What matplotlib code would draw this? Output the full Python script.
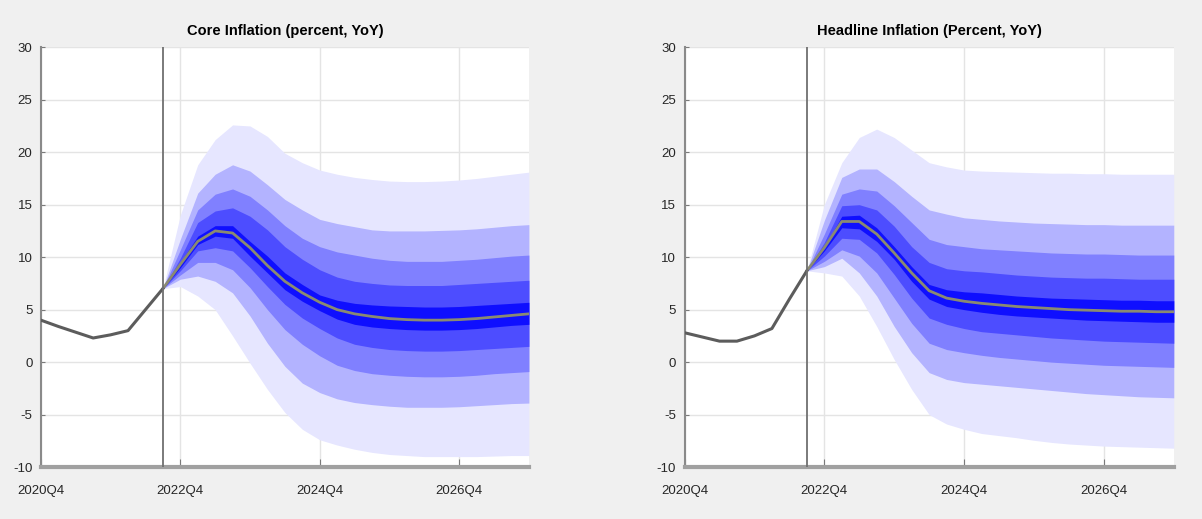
import matplotlib.pyplot as plt

plt.rcParams['font.family'] = ['Liberation Sans', 'DejaVu Sans']
plt.rcParams['axes.unicode_minus'] = False

# x positions are quarters counted from 2020Q4 (= 0)
hist_x = [0, 1, 2, 3, 4, 5, 6, 7]
fc_x = list(range(7, 29))
x_ticks = [0, 8, 16, 24]
x_labels = ['2020Q4', '2022Q4', '2024Q4', '2026Q4']
y_ticks = [-10, -5, 0, 5, 10, 15, 20, 25, 30]
y_labels = ['-10', '-5', '0', '5', '10', '15', '20', '25', '30']
cut_q = 7

# Core inflation
core_hist = [4.0, 3.4, 2.85, 2.3, 2.6, 3.0, 5.0, 7.0]
core_med = [7.0, 9.3, 11.5, 12.5, 12.3, 10.9, 9.2, 7.7, 6.6, 5.7,
            5.0, 4.6, 4.35, 4.15, 4.05, 4.0, 4.0, 4.05, 4.15, 4.3, 4.45, 4.6]
core_u1 = [7.0, 14.0, 18.8, 21.2, 22.6, 22.5, 21.5, 19.9, 19.0, 18.3,
           17.9, 17.6, 17.4, 17.25, 17.2, 17.2, 17.25, 17.35, 17.5, 17.7, 17.9, 18.1]
core_u2 = [7.0, 11.7, 16.1, 17.9, 18.8, 18.2, 16.9, 15.5, 14.5, 13.6,
           13.2, 12.9, 12.6, 12.5, 12.5, 12.5, 12.55, 12.6, 12.7, 12.85, 13.0, 13.1]
core_u3 = [7.0, 10.7, 14.5, 16.0, 16.5, 15.8, 14.5, 13.0, 11.8, 11.0,
           10.5, 10.2, 9.9, 9.7, 9.6, 9.6, 9.6, 9.7, 9.8, 9.95, 10.1, 10.2]
core_u4 = [7.0, 9.9, 13.3, 14.4, 14.7, 13.9, 12.6, 11.0, 9.8, 8.8,
           8.1, 7.7, 7.5, 7.35, 7.3, 7.3, 7.3, 7.4, 7.5, 7.6, 7.7, 7.8]
core_u5 = [7.0, 9.5, 12.0, 13.0, 13.0, 11.5, 10.1, 8.5, 7.4, 6.4,
           5.9, 5.6, 5.45, 5.35, 5.3, 5.25, 5.25, 5.3, 5.4, 5.5, 5.6, 5.7]
core_l5 = [7.0, 9.0, 11.2, 12.0, 11.8, 10.1, 8.5, 6.9, 5.8, 4.9,
           4.1, 3.6, 3.35, 3.2, 3.1, 3.05, 3.05, 3.1, 3.2, 3.35, 3.5, 3.6]
core_l4 = [7.0, 8.7, 10.6, 10.9, 10.6, 9.0, 7.2, 5.5, 4.2, 3.2,
           2.3, 1.7, 1.4, 1.2, 1.1, 1.05, 1.05, 1.1, 1.2, 1.3, 1.4, 1.5]
core_l3 = [7.0, 8.3, 9.5, 9.5, 8.8, 7.1, 5.0, 3.1, 1.7, 0.6,
           -0.3, -0.8, -1.1, -1.25, -1.35, -1.4, -1.4, -1.35, -1.25, -1.1, -1.0, -0.9]
core_l2 = [7.0, 7.9, 8.2, 7.7, 6.6, 4.4, 1.8, -0.4, -2.0, -2.9,
           -3.5, -3.85, -4.05, -4.2, -4.3, -4.3, -4.3, -4.25, -4.15, -4.05, -3.95, -3.9]
core_l1 = [7.0, 7.2, 6.3, 5.0, 2.5, -0.1, -2.6, -4.8, -6.4, -7.4,
           -7.9, -8.3, -8.6, -8.8, -8.9, -9.0, -9.0, -9.0, -9.0, -8.95, -8.9, -8.9]

# Headline inflation
head_hist = [2.8, 2.4, 2.0, 2.0, 2.5, 3.2, 6.0, 8.7]
head_med = [8.7, 10.9, 13.4, 13.4, 12.2, 10.4, 8.5, 6.8, 6.1, 5.8,
            5.6, 5.45, 5.3, 5.2, 5.1, 5.0, 4.95, 4.9, 4.85, 4.85, 4.8, 4.8]
head_u1 = [8.7, 15.0, 19.0, 21.4, 22.2, 21.4, 20.2, 19.0, 18.6, 18.3,
           18.2, 18.15, 18.1, 18.05, 18.0, 18.0, 17.95, 17.95, 17.9, 17.9, 17.9, 17.9]
head_u2 = [8.7, 13.5, 17.6, 18.4, 18.4, 17.2, 15.8, 14.5, 14.1, 13.75,
           13.6, 13.45, 13.35, 13.25, 13.2, 13.15, 13.1, 13.1, 13.05, 13.05, 13.05, 13.05]
head_u3 = [8.7, 12.2, 16.0, 16.5, 16.3, 14.9, 13.3, 11.7, 11.2, 11.0,
           10.8, 10.7, 10.6, 10.5, 10.4, 10.35, 10.3, 10.3, 10.25, 10.2, 10.2, 10.2]
head_u4 = [8.7, 11.4, 14.9, 15.0, 14.5, 12.95, 11.0, 9.5, 8.9, 8.7,
           8.6, 8.45, 8.3, 8.2, 8.1, 8.05, 8.0, 8.0, 7.95, 7.9, 7.9, 7.9]
head_u5 = [8.7, 11.0, 13.9, 14.0, 12.8, 11.0, 9.1, 7.4, 6.9, 6.7,
           6.6, 6.45, 6.3, 6.2, 6.1, 6.05, 6.0, 5.95, 5.9, 5.9, 5.85, 5.85]
head_l5 = [8.7, 10.6, 12.8, 12.7, 11.5, 9.8, 7.7, 6.0, 5.3, 5.0,
           4.75, 4.55, 4.4, 4.3, 4.2, 4.1, 4.0, 3.95, 3.9, 3.85, 3.8, 3.8]
head_l4 = [8.7, 10.1, 11.8, 11.7, 10.4, 8.35, 6.1, 4.2, 3.6, 3.2,
           2.9, 2.75, 2.6, 2.45, 2.3, 2.2, 2.1, 2.0, 1.95, 1.9, 1.85, 1.8]
head_l3 = [8.7, 9.6, 10.7, 10.1, 8.5, 6.1, 3.7, 1.8, 1.2, 0.9,
           0.65, 0.45, 0.3, 0.15, 0.0, -0.1, -0.2, -0.3, -0.35, -0.4, -0.45, -0.5]
head_l2 = [8.7, 9.1, 9.9, 8.5, 6.3, 3.4, 0.9, -1.0, -1.65, -1.95,
           -2.1, -2.25, -2.4, -2.55, -2.7, -2.85, -3.0, -3.1, -3.2, -3.3, -3.35, -3.4]
head_l1 = [8.7, 8.5, 8.2, 6.3, 3.4, 0.25, -2.6, -5.0, -5.9, -6.4,
           -6.8, -7.0, -7.2, -7.45, -7.65, -7.8, -7.9, -8.0, -8.05, -8.1, -8.15, -8.2]

band_colors = ['#e6e6ff', '#b3b3ff', '#8080ff', '#4d4dff', '#0f0fff']


def plot_panel(ax, title, hist, med, uppers, lowers):
    ax.set_facecolor('white')
    for up, lo, col in zip(uppers, lowers, band_colors):
        ax.fill_between(fc_x, lo, up, color=col, linewidth=0, zorder=2)
    ax.plot(fc_x, med, color='#8a8a72', linewidth=2, zorder=4)
    ax.plot(hist_x, hist, color='#5c5c5c', linewidth=2.2, zorder=4)
    ax.axvline(cut_q, color='#707070', linewidth=1.3, zorder=5)

    ax.set_xlim(0, 28)
    ax.set_ylim(-10, 30)
    ax.set_xticks(x_ticks)
    ax.set_xticklabels(x_labels)
    ax.set_yticks(y_ticks)
    ax.set_yticklabels(y_labels)
    ax.grid(True, color='#e4e4e4', linewidth=1, zorder=0)
    ax.set_axisbelow(True)
    ax.tick_params(axis='both', direction='in', colors='#7a7a7a',
                   labelcolor='#262626', labelsize=9.5)
    ax.tick_params(axis='x', length=6, pad=13)
    ax.tick_params(axis='y', length=3, pad=6)
    for s in ['top', 'right']:
        ax.spines[s].set_visible(False)
    ax.spines['left'].set_color('#8a8a8a')
    ax.spines['left'].set_linewidth(1.5)
    ax.spines['bottom'].set_color('#a0a0a0')
    ax.spines['bottom'].set_linewidth(3)
    ax.set_title(title, fontsize=10.5, fontweight='bold', pad=9, color='black')


fig = plt.figure(figsize=(12.02, 5.19), dpi=100, facecolor='#f0f0f0')
ax1 = fig.add_axes([0.034, 0.100, 0.406, 0.809])
ax2 = fig.add_axes([0.5695, 0.100, 0.407, 0.809])

plot_panel(ax1, 'Core Inflation (percent, YoY)', core_hist, core_med,
           [core_u1, core_u2, core_u3, core_u4, core_u5],
           [core_l1, core_l2, core_l3, core_l4, core_l5])
plot_panel(ax2, 'Headline Inflation (Percent, YoY)', head_hist, head_med,
           [head_u1, head_u2, head_u3, head_u4, head_u5],
           [head_l1, head_l2, head_l3, head_l4, head_l5])

fig.savefig('out.png', dpi=100, facecolor=fig.get_facecolor())
